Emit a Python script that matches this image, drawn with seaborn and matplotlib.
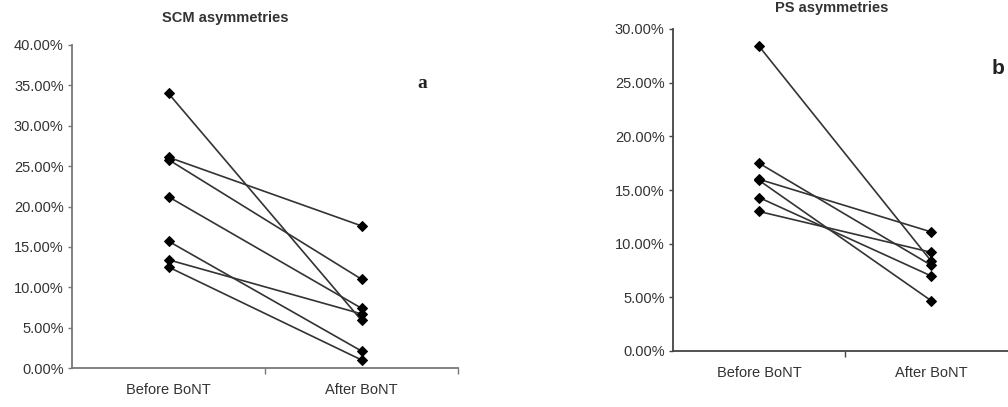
import pandas as pd
import seaborn as sns
import matplotlib.pyplot as plt
from matplotlib.ticker import PercentFormatter

# valores (em %)
fases = ['Before BoNT', 'After BoNT']

scm_antes = [34.0, 26.1, 25.8, 21.2, 15.7, 13.4, 12.5]
scm_depois = [5.9, 17.6, 11.0, 7.4, 2.1, 6.7, 1.0]

ps_antes = [28.4, 17.5, 16.0, 15.9, 14.3, 13.0]
ps_depois = [8.4, 8.0, 11.1, 4.7, 7.0, 9.2]


def monta_df(antes, depois):
    linhas = []
    for i, (a, d) in enumerate(zip(antes, depois)):
        linhas.append({'paciente': i, 'fase': fases[0], 'valor': a})
        linhas.append({'paciente': i, 'fase': fases[1], 'valor': d})
    return pd.DataFrame(linhas)


df_scm = monta_df(scm_antes, scm_depois)
df_ps = monta_df(ps_antes, ps_depois)

sns.set_style("white")
plt.rcParams['font.family'] = ['Liberation Sans', 'DejaVu Sans']

fig = plt.figure(figsize=(10.08, 4.07), dpi=100)
ax1 = fig.add_axes([72 / 1008, 1 - 368 / 407, 386 / 1008, 323 / 407])
ax2 = fig.add_axes([673 / 1008, 1 - 351 / 407, 344 / 1008, 322 / 407])


def desenha(ax, df, ymax, passo, cor_eixo):
    sns.lineplot(data=df, x='fase', y='valor', units='paciente', estimator=None,
                 marker='D', markersize=5, color='#333333', linewidth=1.2,
                 markeredgecolor='black', markerfacecolor='black', ax=ax)
    ax.set_xlim(-0.5, 1.5)
    ax.set_ylim(0, ymax)
    ax.set_yticks([v for v in range(0, ymax + 1, passo)])
    ax.yaxis.set_major_formatter(PercentFormatter(decimals=2))
    ax.set_xticks([0, 1])
    ax.set_xticklabels(fases)
    ax.set_xticks([0.5, 1.5], minor=True)
    ax.tick_params(axis='x', which='major', length=0, pad=11, labelsize=10.5, labelcolor='#333333')
    ax.tick_params(axis='x', which='minor', length=4, width=1, color=cor_eixo, direction='out', bottom=True)
    ax.tick_params(axis='y', length=3, width=1, color=cor_eixo, direction='out', left=True,
                   labelsize=10.5, labelcolor='#333333', pad=3)
    for s in ['top', 'right']:
        ax.spines[s].set_visible(False)
    for s in ['left', 'bottom']:
        ax.spines[s].set_color(cor_eixo)
        ax.spines[s].set_linewidth(1.3)
    ax.set_xlabel('')
    ax.set_ylabel('')
    ax.grid(False)


desenha(ax1, df_scm, 40, 5, '#777777')
desenha(ax2, df_ps, 30, 5, '#444444')

fig.text(225 / 1008, 1 - 18 / 407, 'SCM asymmetries', ha='center', va='center',
         fontsize=10.5, fontweight='bold', color='#333333')
fig.text(832 / 1008, 1 - 8 / 407, 'PS asymmetries', ha='center', va='center',
         fontsize=10.5, fontweight='bold', color='#333333')
fig.text(422 / 1008, 1 - 83 / 407, 'a', ha='center', va='center', fontsize=14,
         fontweight='bold', family='Liberation Serif', color='#222222')
fig.text(998 / 1008, 1 - 68 / 407, 'b', ha='center', va='center', fontsize=15,
         fontweight='bold', color='#222222')

fig.savefig('out.png', dpi=100)
